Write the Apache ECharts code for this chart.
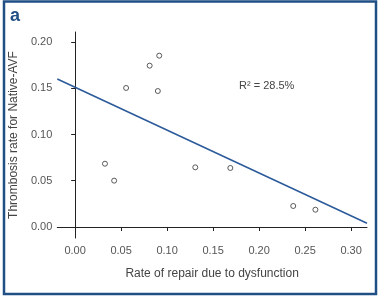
<!DOCTYPE html>
<html>
<head>
<meta charset="utf-8">
<script src="https://cdn.jsdelivr.net/npm/echarts@6/dist/echarts.min.js"></script>
<style>
html,body{margin:0;padding:0;background:#fff;}
#chart{width:381px;height:299px;}
</style>
</head>
<body>
<div id="chart"></div>
<script>
// scatter points (repair rate, thrombosis rate)
var repairRate = [0.0914, 0.081, 0.0554, 0.0899, 0.0324, 0.0424, 0.1306, 0.1687, 0.2371, 0.2612];
var thrombRate = [0.1852, 0.1744, 0.1503, 0.147, 0.0684, 0.0501, 0.0645, 0.0638, 0.0227, 0.0187];
// regression line end points
var fitX = [-0.0194, 0.3173];
var fitY = [0.160, 0.004];
var xTicks = [0, 0.05, 0.1, 0.15, 0.2, 0.25, 0.3];
var yTicks = [0, 0.05, 0.1, 0.15, 0.2];

var pts = [], fit = [];
for (var i = 0; i < repairRate.length; i++) {
	pts.push([repairRate[i], thrombRate[i]]);
}
for (var i = 0; i < fitX.length; i++) {
	fit.push([fitX[i], fitY[i]]);
}

var myChart = echarts.init(document.getElementById('chart'));
var font = 'Liberation Sans';
var option = {
	animation: false,
	grid: { left: 55, top: 32, right: 14, bottom: 61 },
	graphic: [
		{ type: 'rect', shape: { x: 4, y: 1.5, width: 372, height: 292.5 },
		  style: { fill: 'none', stroke: '#1f4f85', lineWidth: 2.5 } },
		{ type: 'text', left: 10, top: 7,
		  style: { text: 'a', fill: '#1f4f85', font: 'bold 18px ' + font } },
		{ type: 'text', left: 239, top: 80,
		  style: { text: 'R² = 28.5%', fill: '#444', font: '11px ' + font } }
	],
	xAxis: {
		type: 'value', min: -0.0194, max: 0.3173,
		name: 'Rate of repair due to dysfunction',
		nameLocation: 'middle', nameGap: 30,
		nameTextStyle: { color: '#444', fontSize: 12, fontFamily: font },
		splitLine: { show: false },
		axisLine: { lineStyle: { color: '#222', width: 1 } },
		axisTick: { show: true, length: 4, customValues: xTicks, lineStyle: { color: '#222' } },
		axisLabel: { customValues: xTicks, color: '#555', fontSize: 11, fontFamily: font, margin: 7,
			formatter: function (v) { return v.toFixed(2); } }
	},
	yAxis: {
		type: 'value', min: -0.0119, max: 0.2108,
		name: 'Thrombosis rate for Native-AVF',
		nameLocation: 'middle', nameGap: 37,
		nameTextStyle: { color: '#444', fontSize: 12, fontFamily: font },
		splitLine: { show: false },
		axisLine: { show: true, lineStyle: { color: '#222', width: 1 } },
		axisTick: { show: true, length: 4, customValues: yTicks, lineStyle: { color: '#222' } },
		axisLabel: { customValues: yTicks, color: '#555', fontSize: 11, fontFamily: font, margin: 5,
			formatter: function (v) { return v.toFixed(2); } }
	},
	series: [{
		type: 'line',
		data: fit,
		symbol: 'none',
		lineStyle: { color: '#2b5a9a', width: 1.5 }
	}, {
		type: 'scatter',
		data: pts,
		symbol: 'circle',
		symbolSize: 5,
		itemStyle: { color: '#fff', borderColor: '#333', borderWidth: 1 }
	}]
};
myChart.setOption(option);
</script>
</body>
</html>
